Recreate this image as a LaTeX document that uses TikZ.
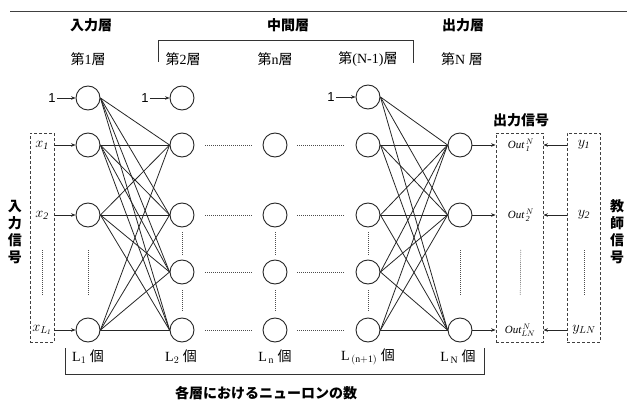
\documentclass[tikz,border=0pt]{standalone}
\usepackage{fontspec}
\setmainfont{Liberation Serif}
\setsansfont{Liberation Sans}
\newfontfamily\jp{Noto Sans CJK JP}
\usetikzlibrary{arrows.meta,calc}
\begin{document}
\begin{tikzpicture}[x=1pt,y=-1pt,
  neuron/.style={circle,draw=black!85,line width=0.9pt,minimum size=24pt,inner sep=0pt},
  conn/.style={line width=0.8pt,draw=black!85},
  arr/.style={line width=0.8pt,draw=black!85,-{Stealth[length=4.5pt,width=3.5pt]}},
  dotline/.style={line width=0.7pt,draw=black!70,dash pattern=on 0.7pt off 1.3pt},
  dashbox/.style={draw=black!75,line width=0.8pt,dash pattern=on 3pt off 2pt,inner sep=0pt},
  brk/.style={line width=0.9pt,draw=black!80},
  head/.style={inner sep=0pt,font=\jp\bfseries\fontsize{14}{16}\selectfont},
  lay/.style={inner sep=0pt,font=\fontsize{14}{16}\selectfont},
  vtext/.style={inner sep=0pt,align=center,font=\jp\bfseries\fontsize{14}{17}\selectfont},
  biasl/.style={inner sep=1pt,font=\sffamily\fontsize{13}{15}\selectfont},
  lab/.style={inner sep=0pt,font=\fontsize{14}{16}\selectfont},
  olab/.style={inner sep=0pt,font=\fontsize{11}{12}\selectfont},
  cnt/.style={inner sep=0pt,font=\fontsize{14}{16}\selectfont}
]
\useasboundingbox (0,0) rectangle (627,404);
% top rule
\draw[line width=1pt,draw=black!75] (10,12) -- (627,12);
% headers
\node[head] (hin) at (91,25) {入力層};
\node[head] (hmid) at (288,25) {中間層};
\node[head] (hout) at (463,25) {出力層};
\draw[brk] (158,62) -- (158,40) -- (413,40) -- (413,63);
\node[lay] (l1) at (88,59) {{\jp 第}1{\jp 層}};
\node[lay] (l2) at (183,59) {{\jp 第}2{\jp 層}};
\node[lay] (ln) at (275,59) {{\jp 第}n{\jp 層}};
\node[lay] (lnm) at (368,59) {{\jp 第}(N-1){\jp 層}};
\node[lay] (lN) at (462,59) {{\jp 第}N {\jp 層}};
% neurons
\foreach \n/\y in {0/98,1/145,2/215,4/330} \node[neuron] (a\n) at (88,\y) {};
\foreach \n/\y in {0/98,1/145,2/215,3/272,4/330} \node[neuron] (b\n) at (182,\y) {};
\foreach \n/\y in {1/145,2/215,3/272,4/330} \node[neuron] (c\n) at (275,\y) {};
\foreach \n/\y in {0/97,1/145,2/215,3/272,4/330} \node[neuron] (d\n) at (368,\y) {};
\foreach \n/\y in {1/145,2/215,4/330} \node[neuron] (e\n) at (460,\y) {};
% connections
\foreach \i in {0,1,2,4} \foreach \j in {1,2,3,4} \draw[conn] (a\i.east) -- (b\j.west);
\foreach \i in {0,1,2,3,4} \foreach \j in {1,2,4} \draw[conn] (d\i.east) -- (e\j.west);
% bias
\node[biasl] (one1) at (52,98) {1};
\node[biasl] (one2) at (145,98) {1};
\node[biasl] (one3) at (331,97) {1};
\draw[arr] (one1) -- (a0);
\draw[arr] (one2) -- (b0);
\draw[arr] (one3) -- (d0);
% dotted links
\foreach \r in {1,2,3,4} {
  \draw[dotline,shorten <=11pt,shorten >=11pt] (b\r) -- (c\r);
  \draw[dotline,shorten <=10pt,shorten >=11pt] (c\r) -- (d\r);
}
\foreach \col in {b,c,d} {
  \draw[dotline,shorten <=5pt,shorten >=4pt] (\col2) -- (\col3);
  \draw[dotline,shorten <=6pt,shorten >=6pt] (\col3) -- (\col4);
}
\draw[dotline,shorten <=23pt,shorten >=23pt] (a2) -- (a4);
\draw[dotline,shorten <=23pt,shorten >=23pt] (e2) -- (e4);
% input box
\node[dashbox,minimum width=24pt,minimum height=209pt] (inbox) at (42,237.5) {};
\node[lab] (x1) at (42,145) {$x_{\mathit{1}}$};
\node[lab] (x2) at (42,215) {$x_{\mathit{2}}$};
\node[lab] (xL) at (42,330) {$x_{L_{\mathit{1}}}$};
\draw[dotline,shorten <=35pt,shorten >=35pt] (x2.center) -- (xL.center);
\foreach \n in {1,2,4} \draw[arr] (inbox.east |- a\n) -- (a\n);
\node[vtext] (insig) at (15,232) {入\\力\\信\\号};
% output box
\node[dashbox,minimum width=47pt,minimum height=209pt] (obox) at (519.5,237.5) {};
\node[olab] (o1) at (521,145) {$\mathit{Out}^{\,N}_{\,\mathit{1}}$};
\node[olab] (o2) at (521,215) {$\mathit{Out}^{\,N}_{\,\mathit{2}}$};
\node[olab] (o4) at (520,330) {$\mathit{Out}^{\,N}_{LN}$};
\draw[dotline,shorten <=35pt,shorten >=35pt] (o2.center) -- (o4.center);
\node[head] (osig) at (521,120) {出力信号};
\foreach \n in {1,2,4} \draw[arr] (e\n) -- (obox.west |- e\n);
% teacher box
\node[dashbox,minimum width=33pt,minimum height=209pt] (tbox) at (583.5,237.5) {};
\node[lab] (y1) at (584,145) {$y_{\mathit{1}}$};
\node[lab] (y2) at (584,215) {$y_{\mathit{2}}$};
\node[lab] (yL) at (584,330) {$y_{LN}$};
\draw[dotline,shorten <=35pt,shorten >=35pt] (y2.center) -- (yL.center);
\foreach \n in {1,2,4} \draw[arr] (tbox.west |- e\n) -- (obox.east |- e\n);
\node[vtext] (tsig) at (617,232) {教\\師\\信\\号};
% counts
\node[cnt] (n1) at (88,357) {$\mathrm{L}_{1}$ {\jp 個}};
\node[cnt] (n2) at (181,357) {$\mathrm{L}_{2}$ {\jp 個}};
\node[cnt] (nn) at (275,357) {$\mathrm{L}_{\,\mathrm{n}}$ {\jp 個}};
\node[cnt] (nn1) at (368,357) {$\mathrm{L}_{\,\mathrm{(n+1)}}$ {\jp 個}};
\node[cnt] (nN) at (458,357) {$\mathrm{L}_{\,\mathrm{N}}$ {\jp 個}};
\draw[brk] (65,348) -- (65,374) -- (484,374) -- (484,348);
\node[head] (cap) at (266,393) {各層におけるニューロンの数};
\end{tikzpicture}
\end{document}
